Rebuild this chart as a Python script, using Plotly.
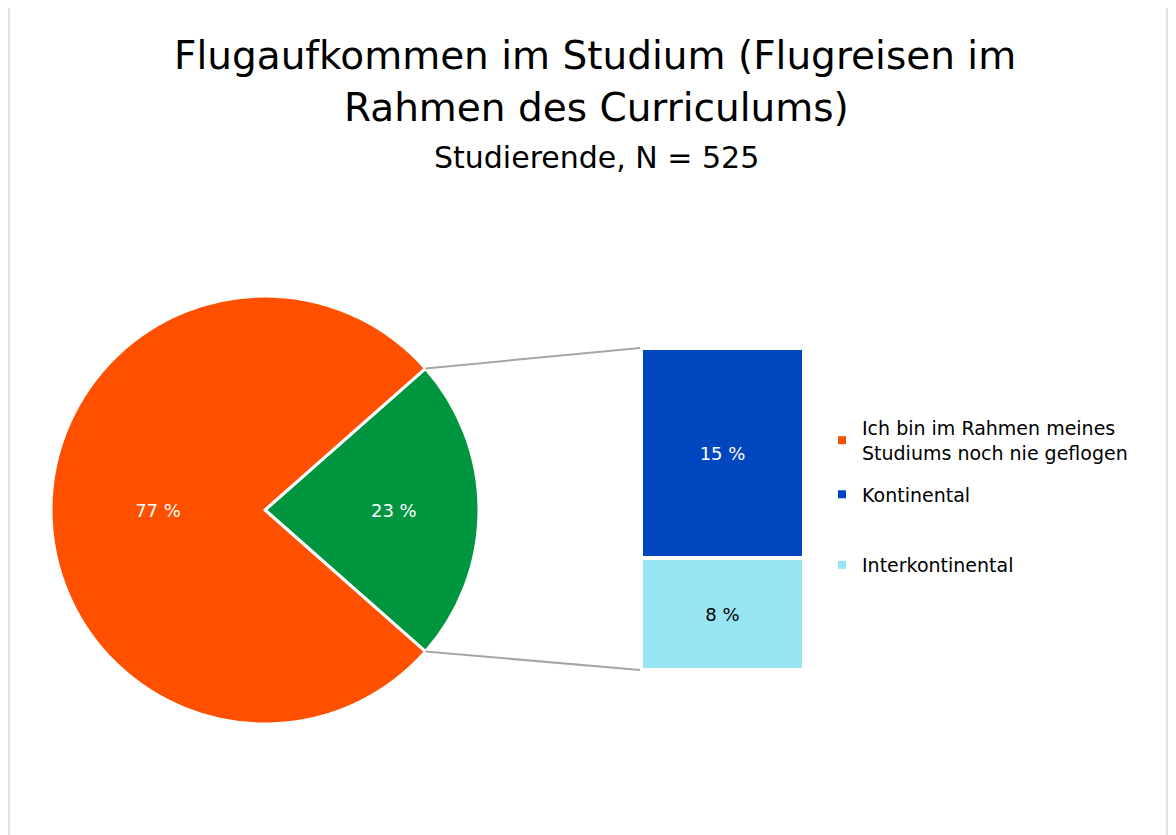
import math
import plotly.graph_objects as go

W, H = 1176, 835
OFF = 8  # body margin of the html page

# ---- data ----
pie_labels = ["Flugreisen im Rahmen des Curriculums", "Ich bin im Rahmen meines<br>Studiums noch nie geflogen"]
pie_values = [23, 77]
pie_colors = ["#00963F", "#FF5000"]

bar_labels = ["Interkontinental", "Kontinental"]
bar_values = [8, 15]
bar_colors = ["#97E4F2", "#0046BE"]
bar_text_colors = ["#000000", "#FFFFFF"]

title_lines = ["Flugaufkommen im Studium (Flugreisen im", "Rahmen des Curriculums)"]
subtitle_text = "Studierende, N = 525"

FONT = "DejaVu Sans"

# ---- layout geometry (target pixels) ----
pie_cx, pie_cy, pie_r = 265, 510, 214
bar_x0, bar_x1 = 641, 804
bar_ytop, bar_ybot = 348, 670


def px(x):
    return (x - OFF) / W


def py(y):
    return 1 - (y - OFF) / H


fig = go.Figure()

green_share = pie_values[0] / sum(pie_values)
half_angle = 360 * green_share / 2

fig.add_trace(go.Pie(
    labels=pie_labels,
    values=pie_values,
    sort=False,
    direction="clockwise",
    rotation=90 - half_angle,
    marker=dict(colors=pie_colors, line=dict(color="white", width=3)),
    texttemplate="%{value} %",
    textposition="inside",
    insidetextorientation="horizontal",
    textfont=dict(color="white", size=18, family=FONT),
    showlegend=False,
    hoverinfo="label+value",
    domain=dict(x=[px(pie_cx - pie_r), px(pie_cx + pie_r)],
                y=[py(pie_cy + pie_r), py(pie_cy - pie_r)]),
))

for lab, val, col, tc in zip(bar_labels, bar_values, bar_colors, bar_text_colors):
    fig.add_trace(go.Bar(
        x=[0], y=[val], name=lab,
        marker=dict(color=col, line=dict(color="white", width=4)),
        text=[f"{val} %"], texttemplate="%{text}",
        textposition="inside", insidetextanchor="middle",
        textfont=dict(color=tc, size=18, family=FONT),
        width=1, showlegend=False,
    ))

# legend entries (small square markers)
legend_items = [
    (pie_labels[1], pie_colors[1], "legend", "a"),
    (bar_labels[1], bar_colors[1], "legend", "b"),
    (bar_labels[0], bar_colors[0], "legend2", "c"),
]
for i, (lab, col, lg, grp) in enumerate(legend_items):
    fig.add_trace(go.Scatter(
        x=[None], y=[None], mode="markers", name=lab,
        marker=dict(symbol="square", size=8, color=col),
        legend=lg, legendgroup=grp, legendrank=i + 1, xaxis="x", yaxis="y",
    ))

total = sum(bar_values)

# connector lines
ang = math.radians(half_angle)
p_top = (pie_cx + pie_r * math.cos(ang), pie_cy - pie_r * math.sin(ang))
p_bot = (pie_cx + pie_r * math.cos(ang), pie_cy + pie_r * math.sin(ang))
shapes = [
    dict(type="line", xref="paper", yref="paper",
         x0=px(p_top[0]), y0=py(p_top[1]), x1=px(bar_x0 - 1), y1=py(bar_ytop),
         line=dict(color="#A6A6A6", width=2)),
    dict(type="line", xref="paper", yref="paper",
         x0=px(p_bot[0]), y0=py(p_bot[1]), x1=px(bar_x0 - 1), y1=py(bar_ybot),
         line=dict(color="#A6A6A6", width=2)),
    dict(type="rect", xref="paper", yref="paper",
         x0=px(9), y0=-0.05, x1=px(1167), y1=py(6),
         line=dict(color="#C8C8C8", width=1), layer="below"),
]

legend_font = dict(size=19, family=FONT, color="#000000")

fig.update_layout(
    width=W, height=H,
    margin=dict(l=0, r=0, t=0, b=0),
    paper_bgcolor="white", plot_bgcolor="white",
    font=dict(family=FONT, color="#000000"),
    barmode="stack", bargap=0,
    xaxis=dict(domain=[px(bar_x0), px(bar_x1)], range=[-0.5, 0.5], visible=False, fixedrange=True),
    yaxis=dict(domain=[py(bar_ybot), py(bar_ytop)], range=[0, total], visible=False, fixedrange=True),
    shapes=shapes,
    legend=dict(x=px(822), y=py(409), xanchor="left", yanchor="top",
                font=legend_font, traceorder="grouped", tracegroupgap=14, itemwidth=30),
    legend2=dict(x=px(822), y=py(546), xanchor="left", yanchor="top",
                 font=legend_font, itemwidth=30),
    annotations=[
        dict(text=title_lines[0], x=px(595), y=py(55), xref="paper", yref="paper",
             showarrow=False, font=dict(size=39, family=FONT, color="#000000"),
             xanchor="center", yanchor="middle"),
        dict(text=title_lines[1], x=px(596), y=py(107), xref="paper", yref="paper",
             showarrow=False, font=dict(size=39, family=FONT, color="#000000"),
             xanchor="center", yanchor="middle"),
        dict(text=subtitle_text, x=px(596), y=py(157), xref="paper", yref="paper",
             showarrow=False, font=dict(size=30, family=FONT, color="#000000"),
             xanchor="center", yanchor="middle"),
    ],
)

fig.write_html("out.html")
